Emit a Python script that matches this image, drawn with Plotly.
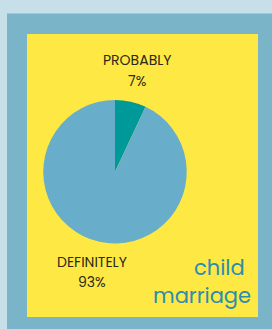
import plotly.graph_objects as go

labels = ["PROBABLY", "DEFINITELY"]
values = [7, 93]
colors = ["#00999a", "#68aeca"]
title_lines = ["child", "marriage"]

W, H = 272, 329

def px(x):
    return x / W

def py(y):
    return 1 - y / H

fig = go.Figure()
fig.add_trace(go.Pie(
    labels=labels, values=values, sort=False, direction="clockwise", rotation=0,
    marker=dict(colors=colors, line=dict(width=0)),
    textinfo="none", hoverinfo="label+percent", showlegend=False,
    domain=dict(x=[px(43), px(187)], y=[py(243.5), py(100)]),
))

shapes = [
    dict(type="rect", xref="paper", yref="paper", x0=px(7), x1=1.01, y0=-0.01, y1=py(13.5),
         fillcolor="#7ab4c9", line=dict(width=0), layer="below"),
    dict(type="rect", xref="paper", yref="paper", x0=px(27), x1=px(258), y0=py(317), y1=py(34),
         fillcolor="#fee843", line=dict(width=0), layer="below"),
]

font = "Poppins, Lato, Noto Sans, sans-serif"
lab_font = dict(family=font, size=14, color="#2b2a1c")
tit_font = dict(family=font, size=21, color="#2a8db2")

def note(text, x, y, f, xanchor="center"):
    return dict(text=text, x=px(x), y=py(y), xref="paper", yref="paper",
                xanchor=xanchor, yanchor="middle", showarrow=False, font=f)

ann = [
    note(labels[0], 137, 60, lab_font),
    note(f"{values[0]}%", 137, 81, lab_font),
    note(labels[1], 92, 262, lab_font),
    note(f"{values[1]}%", 92, 282, lab_font),
    note(title_lines[0], 247, 267, tit_font, "right"),
    note(title_lines[1], 253, 295, tit_font, "right"),
]

fig.update_layout(
    width=W, height=H, margin=dict(l=0, r=0, t=0, b=0),
    paper_bgcolor="#c6dfe9", plot_bgcolor="#c6dfe9",
    shapes=shapes, annotations=ann,
)
fig.write_html("out.html", config={"displayModeBar": False},
               post_script="document.body.style.margin='0';")
